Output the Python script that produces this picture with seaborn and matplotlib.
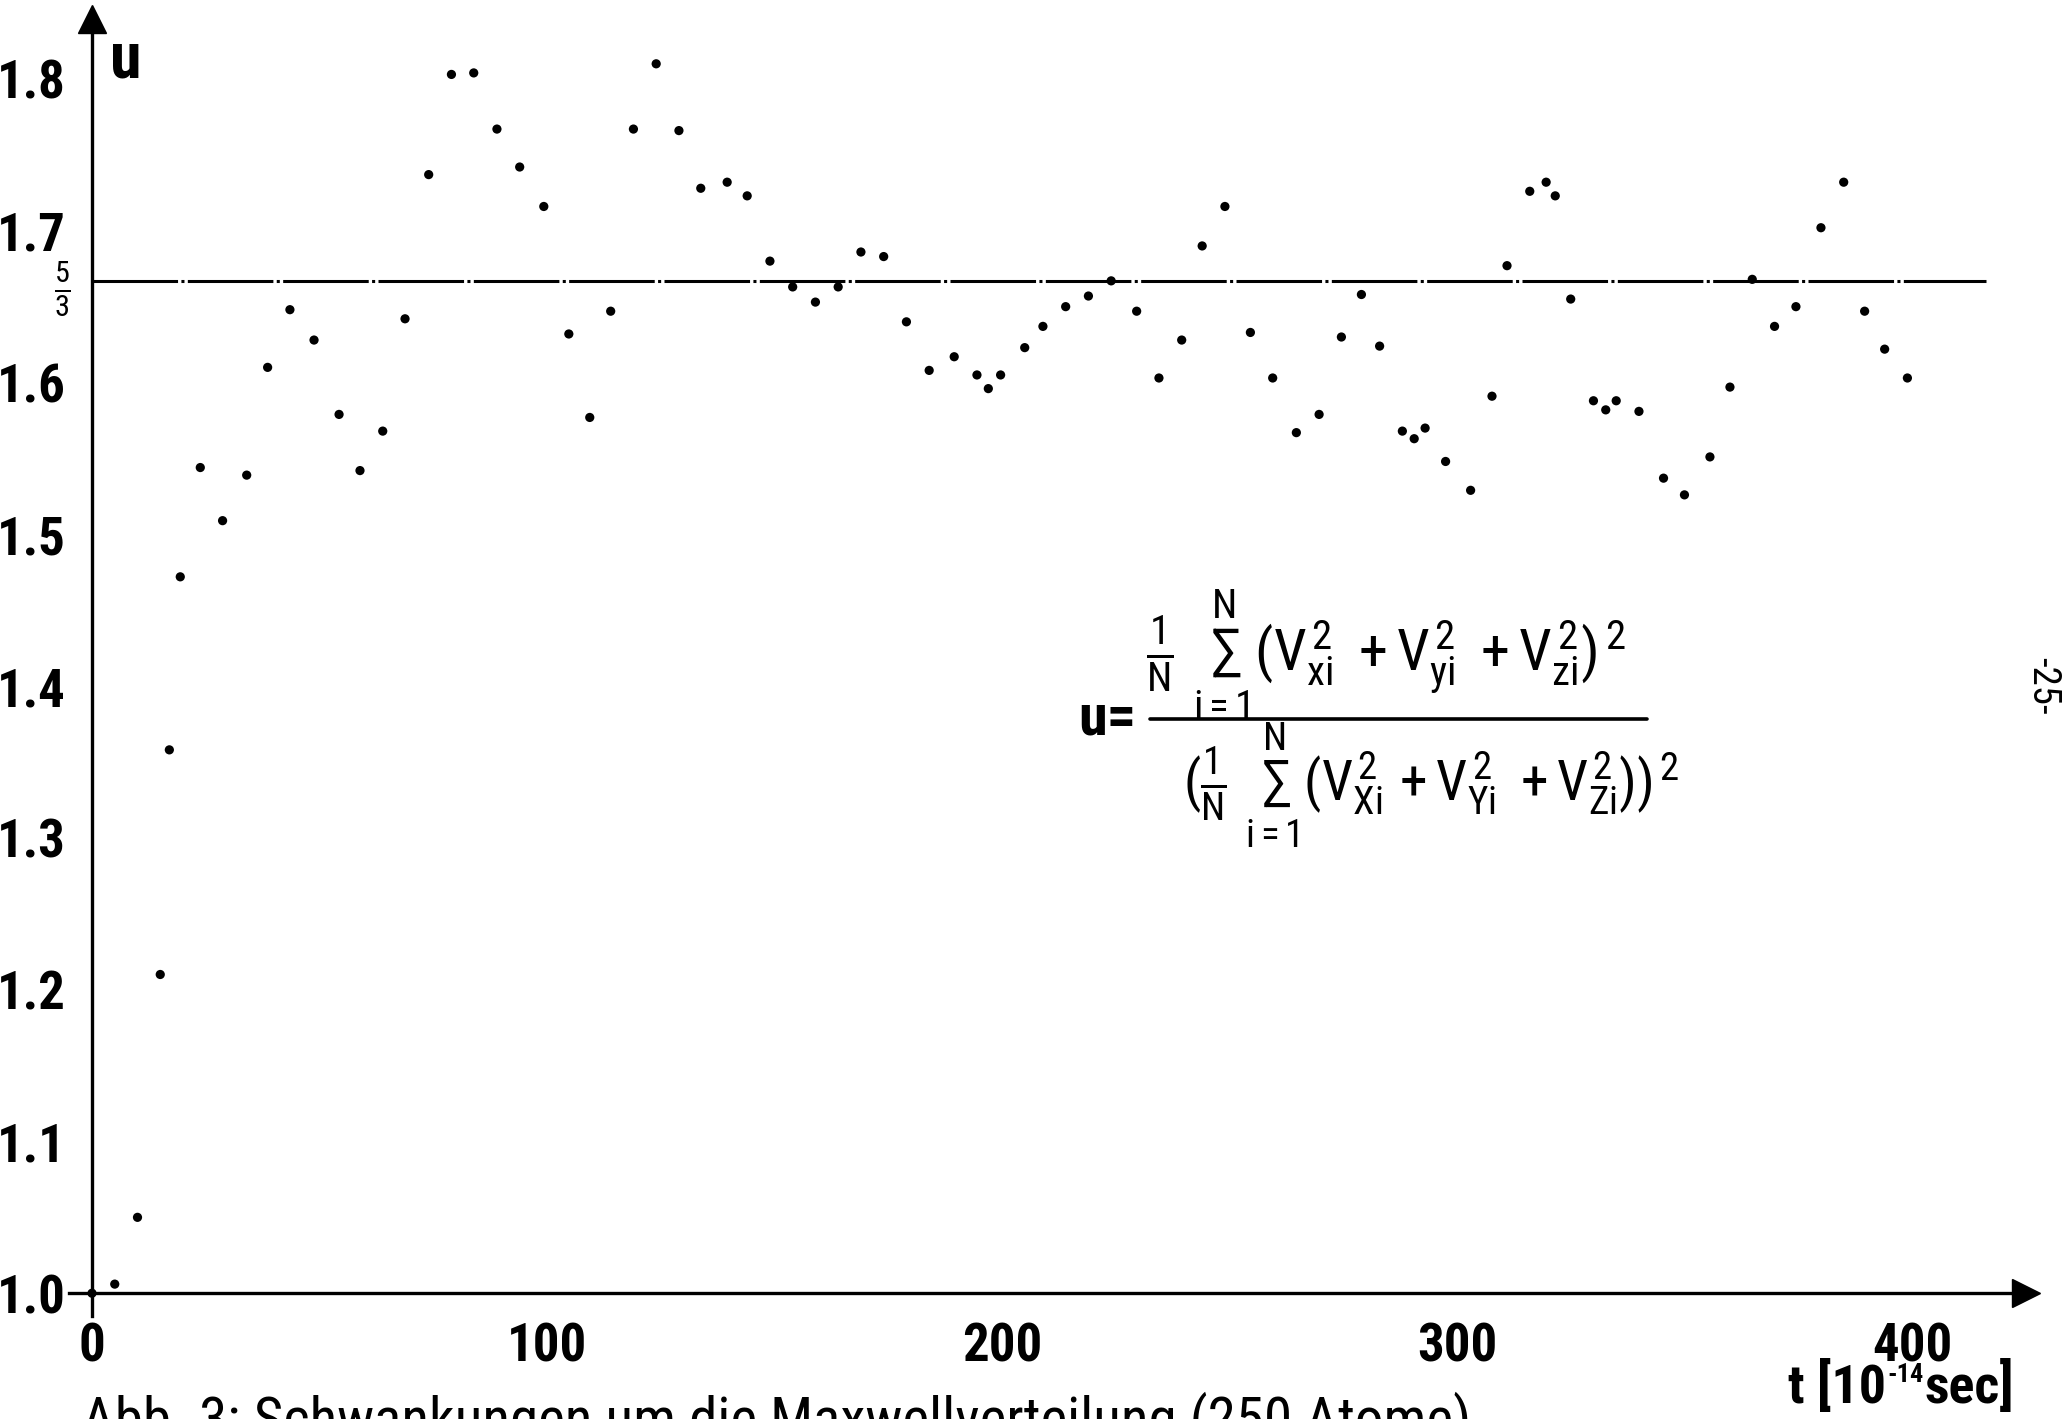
import matplotlib
matplotlib.use("Agg")
import matplotlib.pyplot as plt
from matplotlib import font_manager
import seaborn as sns
import pandas as pd

# Time in units of 1e-14 s
t_values = [0, 5, 10, 15, 17, 19.4, 23.8, 28.7, 34, 38.6, 43.5, 48.8, 54.3, 58.9,
            63.9, 68.8, 74, 79, 83.9, 89, 94, 99.3, 104.8, 109.4, 114, 119, 124,
            129, 133.8, 139.6, 144, 149, 154, 159, 164, 169, 174, 179, 184, 189.5,
            194.5, 197, 199.7, 205, 209, 214, 219, 224, 229.6, 234.5, 239.5, 244,
            249, 254.6, 259.5, 264.7, 269.7, 274.6, 279, 283, 288, 290.6, 293,
            297.5, 303, 307.7, 311, 316, 319.6, 321.6, 325, 330, 332.7, 335, 340,
            345.4, 350, 355.6, 360, 364.9, 369.8, 374.5, 380, 385, 389.6, 394, 399]
# u = <v^4> / <v^2>^2
u_values = [1.000, 1.006, 1.050, 1.210, 1.358, 1.472, 1.544, 1.509, 1.539, 1.610,
            1.648, 1.628, 1.579, 1.542, 1.568, 1.642, 1.737, 1.803, 1.804, 1.767,
            1.742, 1.716, 1.632, 1.577, 1.647, 1.767, 1.810, 1.766, 1.728, 1.732,
            1.723, 1.680, 1.663, 1.653, 1.663, 1.686, 1.683, 1.640, 1.608, 1.617,
            1.605, 1.596, 1.605, 1.623, 1.637, 1.650, 1.657, 1.667, 1.647, 1.603,
            1.628, 1.690, 1.716, 1.633, 1.603, 1.567, 1.579, 1.630, 1.658, 1.624,
            1.568, 1.563, 1.570, 1.548, 1.529, 1.591, 1.677, 1.726, 1.732, 1.723,
            1.655, 1.588, 1.582, 1.588, 1.581, 1.537, 1.526, 1.551, 1.597, 1.668,
            1.637, 1.650, 1.702, 1.732, 1.647, 1.622, 1.603]

x_ticks = [0, 100, 200, 300, 400]
y_ticks = [1.0, 1.1, 1.2, 1.3, 1.4, 1.5, 1.6, 1.7, 1.8]
y_tick_labels = ["1.0", "1.1", "1.2", "1.3", "1.4", "1.5", "1.6", "1.7", "1.8"]
u_equilibrium = 5 / 3

sns.set_style("white")

# pick a narrow sans face if one is installed
installed = {f.name for f in font_manager.fontManager.ttflist}
narrow = next((f for f in ["Liberation Sans Narrow", "Roboto Condensed",
                           "Open Sans Condensed", "Roboto", "DejaVu Sans"]
               if f in installed), "DejaVu Sans")
plt.rcParams["font.family"] = [narrow, "DejaVu Sans"]
plt.rcParams["text.color"] = "black"
plt.rcParams["mathtext.fontset"] = "custom"
plt.rcParams["mathtext.rm"] = narrow
plt.rcParams["mathtext.it"] = narrow
plt.rcParams["mathtext.bf"] = narrow + ":bold"
plt.rcParams["mathtext.default"] = "regular"

df = pd.DataFrame({"t": t_values, "u": u_values})

X_MIN, X_MAX = -5, 425
Y_MIN, Y_MAX = 0.985, 1.8395

fig = plt.figure(figsize=(20.69, 14.19), dpi=100)
ax = fig.add_axes([0.03347, 0.07259, 0.9456, 0.9140])

sns.scatterplot(data=df, x="t", y="u", ax=ax, color="black", s=44,
                edgecolor="none", legend=False, zorder=3)

# equilibrium value 5/3 for a Maxwell distribution
ax.axhline(u_equilibrium, xmin=(0 - X_MIN) / (X_MAX - X_MIN),
           xmax=(416.3 - X_MIN) / (X_MAX - X_MIN),
           color="black", lw=2.2, linestyle=(0, (28, 1.1, 1, 1.1)), zorder=2)

ax.set_xlim(X_MIN, X_MAX)
ax.set_ylim(Y_MIN, Y_MAX)
ax.set_xlabel("")
ax.set_ylabel("")

for side in ("top", "right"):
    ax.spines[side].set_visible(False)
ax.spines["left"].set_position(("data", 0))
ax.spines["bottom"].set_position(("data", 1.0))
for side in ("left", "bottom"):
    ax.spines[side].set_linewidth(2.4)
    ax.spines[side].set_color("black")

# arrow heads at the ends of both axes
ax.plot([X_MAX], [1.0], marker=">", markersize=20, color="black",
        clip_on=False, zorder=5)
ax.plot([0], [Y_MAX], marker="^", markersize=20, color="black",
        clip_on=False, zorder=5)

tick_font = dict(family=narrow, weight="bold", size=38)
ax.set_xticks(x_ticks)
ax.set_xticklabels([str(v) for v in x_ticks], fontdict=tick_font)
ax.set_yticks(y_ticks)
ax.set_yticklabels(y_tick_labels, fontdict=tick_font)
ax.tick_params(axis="x", direction="out", length=18, width=2, pad=2,
               colors="black")
ax.tick_params(axis="y", direction="out", length=7, width=2, pad=12,
               colors="black")

# 5/3 marker on the u axis
ax.text(-6.6, u_equilibrium - 0.005, r"$\frac{5}{3}$", fontsize=31,
        ha="center", va="center")

ax.text(4.0, 1.801, "u", fontsize=46, fontweight="bold", ha="left",
        va="baseline")

# formula for u
line_y = 1 - 719 / 1419
num = (r"$\frac{1}{N}\ \sum_{i=1}^{N}(V_{xi}^{\,2}\ +V_{yi}^{\,2}"
       r"\ +V_{zi}^{\,2})^{\,2}$")
den = (r"$(\frac{1}{N}\ \sum_{i=1}^{N}(V_{Xi}^{\,2}\,+V_{Yi}^{\,2}"
       r"\ +V_{Zi}^{\,2}))^{\,2}$")
fig.text(1146 / 2069, line_y - 0.002, num, fontsize=42, ha="left", va="bottom")
fig.text(1183 / 2069, line_y - 0.001, den, fontsize=40, ha="left", va="top")
fig.add_artist(plt.Line2D([1150 / 2069, 1647 / 2069], [line_y] * 2,
                          color="black", lw=2.6))
fig.text(1078 / 2069, line_y, "u=", fontsize=42, fontweight="bold",
         ha="left", va="center")

# axis unit, with the exponent set as a small raised piece
unit_base = fig.text(1788 / 2069, 1 - 1403 / 1419, "t [10", fontsize=39,
                     fontweight="bold", ha="left", va="baseline")
fig.canvas.draw()
bb = unit_base.get_window_extent()
unit_exp = fig.text((bb.x1 + 1) / fig.bbox.width, 1 - 1382 / 1419, "-14",
                    fontsize=19, fontweight="bold", ha="left", va="baseline")
fig.canvas.draw()
bb2 = unit_exp.get_window_extent()
fig.text((bb2.x1 + 1) / fig.bbox.width, 1 - 1403 / 1419, "sec]", fontsize=39,
         fontweight="bold", ha="left", va="baseline")

# caption
fig.text(82 / 2069, 1 - 1392 / 1419,
         "Abb. 3: Schwankungen um die Maxwellverteilung (250 Atome)",
         fontsize=41, ha="left", va="top")

# page number
fig.text(2043 / 2069, 1 - 686 / 1419, "-25-", fontsize=28, rotation=-90,
         ha="center", va="center")

fig.savefig("out.png", dpi=100)
